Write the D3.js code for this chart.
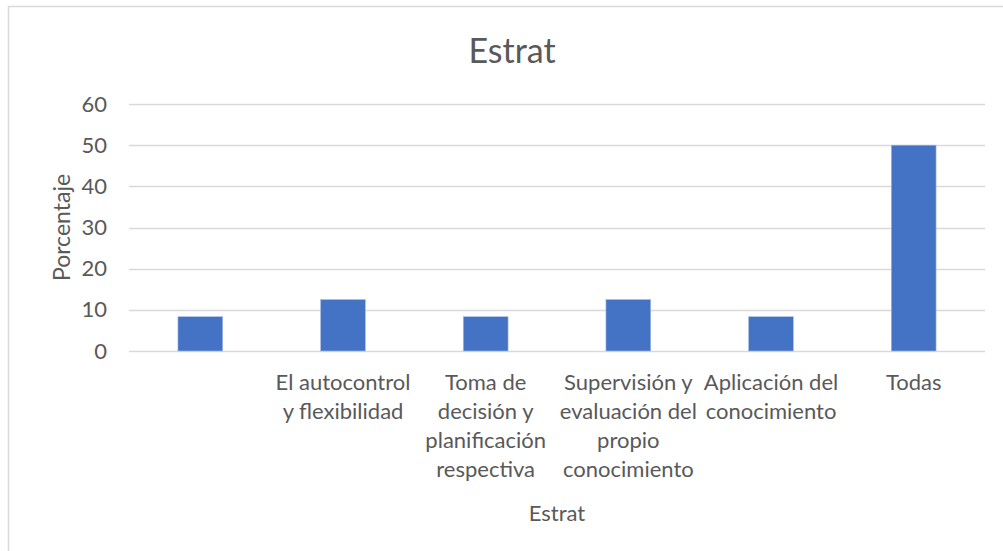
<!DOCTYPE html>
<meta charset="utf-8">
<html>
<head>
  <style>
    body { margin: 0; background: #fff; }
    svg { display: block; font-family: Lato, "Open Sans", sans-serif; }
    .tick text { fill: #595959; }
  </style>
</head>
<body>
<svg width="1003" height="551"></svg>
<script src="https://d3js.org/d3.v7.min.js"></script>
<script>
  // categories, wrapped the way the original shows them
  const categories = [
    [""],
    ["El autocontrol", "y flexibilidad"],
    ["Toma de", "decisión y", "planificación", "respectiva"],
    ["Supervisión y", "evaluación del", "propio", "conocimiento"],
    ["Aplicación del", "conocimiento"],
    ["Todas"]
  ];
  const values = [8.33, 12.5, 8.33, 12.5, 8.33, 50];
  const yTicks = [0, 10, 20, 30, 40, 50, 60];

  const svg = d3.select("svg");
  const grey = "#595959";

  // chart frame (runs off the right and bottom edges)
  svg.append("rect")
    .attr("x", 8.5).attr("y", 6.5)
    .attr("width", 1010).attr("height", 560)
    .attr("fill", "none").attr("stroke", "#d9d9d9").attr("stroke-width", 1.5);

  const plot = { left: 129, right: 985, top: 104, bottom: 351 };

  const x = d3.scaleBand()
    .domain(d3.range(categories.length))
    .range([plot.left, plot.right])
    .paddingInner(0.686).paddingOuter(0.343);
  const band = d3.scaleBand()
    .domain(d3.range(categories.length))
    .range([plot.left, plot.right]);

  const y = d3.scaleLinear().domain([0, 60]).range([plot.bottom, plot.top]);

  // gridlines
  svg.append("g").selectAll("line")
    .data(yTicks)
    .join("line")
    .attr("x1", plot.left).attr("x2", plot.right)
    .attr("y1", d => Math.round(y(d)) + 0.5).attr("y2", d => Math.round(y(d)) + 0.5)
    .attr("stroke", "#d9d9d9").attr("stroke-width", 1.3);

  // y axis labels
  const yAxis = svg.append("g")
    .attr("transform", `translate(${plot.left - 22},0)`)
    .call(d3.axisLeft(y).tickValues(yTicks).tickSize(0).tickPadding(0));
  yAxis.select(".domain").remove();
  yAxis.selectAll("text").attr("font-size", 22).attr("font-family", "Lato, sans-serif");

  // bars
  svg.append("g").selectAll("rect")
    .data(values)
    .join("rect")
    .attr("x", (d, i) => x(i))
    .attr("width", x.bandwidth())
    .attr("y", d => y(d))
    .attr("height", d => y(0) - y(d))
    .attr("fill", "#4472c4")
    .attr("stroke", "#a9bde6").attr("stroke-width", 0.6);

  // category labels
  const lab = svg.append("g").selectAll("text")
    .data(categories)
    .join("text")
    .attr("text-anchor", "middle")
    .attr("fill", grey)
    .attr("font-size", 22)
    .attr("transform", (d, i) => `translate(${band(i) + band.bandwidth() / 2},${plot.bottom + 39})`);
  lab.selectAll("tspan")
    .data(d => d)
    .join("tspan")
    .attr("x", 0)
    .attr("y", (d, i) => i * 29)
    .text(d => d);

  // titles
  svg.append("text")
    .attr("x", 512).attr("y", 63)
    .attr("text-anchor", "middle")
    .attr("fill", grey).attr("font-size", 34)
    .text("Estrat");

  svg.append("text")
    .attr("x", (plot.left + plot.right) / 2).attr("y", 521)
    .attr("text-anchor", "middle")
    .attr("fill", grey).attr("font-size", 22)
    .text("Estrat");

  svg.append("text")
    .attr("transform", `translate(70,${(plot.top + plot.bottom) / 2}) rotate(-90)`)
    .attr("text-anchor", "middle")
    .attr("fill", grey).attr("font-size", 23)
    .text("Porcentaje");
</script>
</body>
</html>
